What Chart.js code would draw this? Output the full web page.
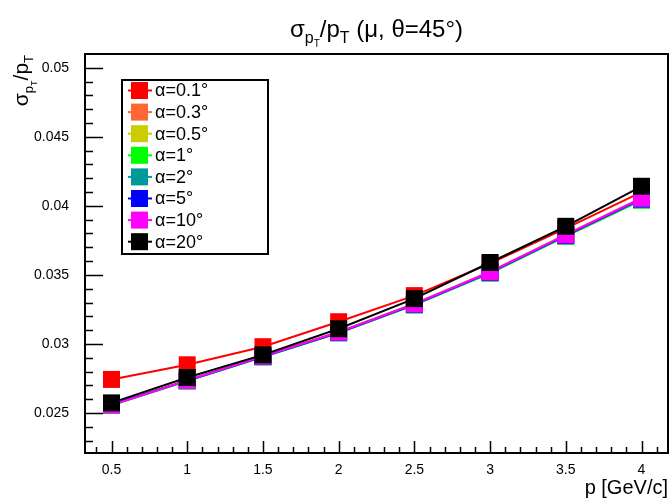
<!DOCTYPE html>
<html>
<head>
<meta charset="utf-8">
<script src="https://cdn.jsdelivr.net/npm/chart.js@4.4.1/dist/chart.umd.min.js"></script>
<style>
  html, body { margin: 0; padding: 0; background: #fff; }
  #wrap { width: 670px; height: 501px; }
</style>
</head>
<body>
<div id="wrap"><canvas id="myChart" width="670" height="501"></canvas></div>
<script>

// momentum points (GeV/c)
var pVals = [0.5, 1, 1.5, 2, 2.5, 3, 3.5, 4];

// sigma_pT / pT for each alpha
var a01 = [0.02743, 0.02849, 0.02980, 0.03161, 0.03350, 0.03583, 0.03837, 0.04099];
var a03 = [0.02560, 0.02737, 0.02912, 0.03087, 0.03291, 0.03523, 0.03792, 0.04058];
var a05 = [0.02559, 0.02736, 0.02911, 0.03086, 0.03290, 0.03522, 0.03791, 0.04056];
var a1  = [0.02556, 0.02731, 0.02905, 0.03079, 0.03281, 0.03512, 0.03779, 0.04040];
var a2  = [0.02557, 0.02733, 0.02907, 0.03081, 0.03284, 0.03515, 0.03783, 0.04045];
var a5  = [0.02562, 0.02734, 0.02909, 0.03083, 0.03287, 0.03518, 0.03786, 0.04050];
var a10 = [0.02558, 0.02735, 0.02911, 0.03085, 0.03289, 0.03521, 0.03790, 0.04055];
var a20 = [0.02573, 0.02757, 0.02921, 0.03110, 0.03328, 0.03590, 0.03852, 0.04142];

var labels = ['\u03b1=0.1\u00b0', '\u03b1=0.3\u00b0', '\u03b1=0.5\u00b0', '\u03b1=1\u00b0',
              '\u03b1=2\u00b0', '\u03b1=5\u00b0', '\u03b1=10\u00b0', '\u03b1=20\u00b0'];
var series = [a01, a03, a05, a1, a2, a5, a10, a20];
var colors = ['#ff0000', '#ff6633', '#cccc00', '#00ff00', '#009999', '#0000ff', '#ff00ff', '#000000'];

var xTicks = [0.5, 1, 1.5, 2, 2.5, 3, 3.5, 4];
var yTicks = [0.025, 0.03, 0.035, 0.04, 0.045, 0.05];

var FONT = '"Liberation Sans", Arial, Helvetica, sans-serif';

var datasets = [];
for (var i = 0; i < series.length; i++) {
  datasets.push({
    label: labels[i],
    data: pVals.map(function (p, k) { return { x: p, y: series[i][k] }; }),
    borderColor: colors[i],
    backgroundColor: colors[i],
    borderWidth: 2,
    pointStyle: 'rect',
    pointRadius: 12,
    pointBorderWidth: 0,
    pointHoverRadius: 12,
    tension: 0,
    order: series.length - 1 - i   // first alpha drawn at the bottom
  });
}

// text with sub/superscripts: pieces of [text, size, dy]
function richWidth(ctx, parts) {
  var w = 0;
  parts.forEach(function (pt) {
    ctx.font = pt[1] + 'px ' + FONT;
    w += ctx.measureText(pt[0]).width;
  });
  return w;
}
function richDraw(ctx, parts, x, y) {
  parts.forEach(function (pt) {
    ctx.font = pt[1] + 'px ' + FONT;
    ctx.fillText(pt[0], x, y + pt[2]);
    x += ctx.measureText(pt[0]).width;
  });
}

var rootStyle = {
  id: 'rootStyle',
  afterDraw: function (chart) {
    var ctx = chart.ctx;
    var a = chart.chartArea;
    var xs = chart.scales.x, ys = chart.scales.y;
    ctx.save();
    ctx.strokeStyle = '#000';
    ctx.fillStyle = '#000';

    // ticks on x (inward)
    ctx.lineWidth = 1.5;
    ctx.beginPath();
    for (var t = 4; t <= 41; t++) {
      var v = t / 10;
      var px = Math.round(xs.getPixelForValue(v)) + 0.5;
      var len = (t % 5 === 0) ? 12 : 6;
      ctx.moveTo(px, a.bottom);
      ctx.lineTo(px, a.bottom - len);
    }
    // ticks on y (inward)
    for (var m = 23; m <= 50; m++) {
      var py = Math.round(ys.getPixelForValue(m / 1000)) + 0.5;
      var ln = (m % 5 === 0) ? 18 : 8;
      ctx.moveTo(a.left, py);
      ctx.lineTo(a.left + ln, py);
    }
    ctx.stroke();

    // frame
    ctx.lineWidth = 2;
    ctx.strokeRect(a.left, a.top, a.right - a.left, a.bottom - a.top);

    // title
    var title = [['\u03c3', 24, 0], ['p', 16, 6], ['T', 10, 10], ['/p', 24, 0], ['T', 16, 6],
                 [' (\u03bc, \u03b8=45\u00b0)', 24, 0]];
    ctx.textBaseline = 'alphabetic';
    ctx.textAlign = 'left';
    var tw = richWidth(ctx, title);
    richDraw(ctx, title, (a.left + a.right) / 2 - tw / 2, 37);

    // x axis title
    ctx.font = '20px ' + FONT;
    ctx.textAlign = 'right';
    ctx.fillText('p [GeV/c]', a.right, 494);

    // y axis title, rotated, aligned to top of axis
    var ytitle = [['\u03c3', 21, 0], ['p', 13, 5], ['T', 9, 9], ['/p', 21, 0], ['T', 13, 5]];
    ctx.textAlign = 'left';
    var yw = richWidth(ctx, ytitle);
    ctx.save();
    ctx.translate(28, 55 + yw);
    ctx.rotate(-Math.PI / 2);
    richDraw(ctx, ytitle, 0, 0);
    ctx.restore();

    // legend box
    var bx = 122, by = 80, bw = 146, bh = 174;
    ctx.fillStyle = '#fff';
    ctx.fillRect(bx, by, bw, bh);
    ctx.lineWidth = 2;
    ctx.strokeRect(bx, by, bw, bh);
    var dsList = chart.data.datasets;
    dsList.forEach(function (ds, k) {
      var cy = by + 10.5 + k * 21.6;
      ctx.strokeStyle = ds.borderColor;
      ctx.lineWidth = 2;
      ctx.beginPath();
      ctx.moveTo(128, cy);
      ctx.lineTo(152, cy);
      ctx.stroke();
      ctx.fillStyle = ds.backgroundColor;
      ctx.fillRect(131, cy - 8.5, 17, 17);
      ctx.fillStyle = '#000';
      ctx.font = '18px ' + FONT;
      ctx.textBaseline = 'middle';
      ctx.fillText(ds.label, 155, cy + 1);
    });
    ctx.restore();
  }
};

var ctx = document.getElementById('myChart').getContext('2d');

var myChart = new Chart(ctx, {
  type: 'line',
  data: { datasets: datasets },
  options: {
    responsive: false,
    animation: false,
    events: [],
    layout: { autoPadding: false, padding: { top: 54, right: 2, left: 0, bottom: 0 } },
    plugins: { legend: { display: false }, tooltip: { enabled: false }, title: { display: false } },
    scales: {
      x: {
        type: 'linear',
        min: 0.325,
        max: 4.175,
        afterBuildTicks: function (s) { s.ticks = xTicks.map(function (v) { return { value: v }; }); },
        afterFit: function (s) { s.height = 48; s.paddingLeft = 0; s.paddingRight = 0; },
        grid: { display: false },
        border: { display: false },
        ticks: {
          color: '#000',
          padding: 1,
          maxRotation: 0,
          autoSkip: false,
          font: { family: FONT, size: 14 },
          callback: function (v) { return String(v); }
        }
      },
      y: {
        type: 'linear',
        min: 0.0221,
        max: 0.0510,
        afterBuildTicks: function (s) { s.ticks = yTicks.map(function (v) { return { value: v }; }); },
        afterFit: function (s) { s.width = 85; s.paddingTop = 0; s.paddingBottom = 0; },
        grid: { display: false },
        border: { display: false },
        ticks: {
          color: '#000',
          padding: 8,
          autoSkip: false,
          font: { family: FONT, size: 14 },
          callback: function (v) { return String(+v.toFixed(3)); }
        }
      }
    }
  },
  plugins: [rootStyle]
});

</script>
</body>
</html>
